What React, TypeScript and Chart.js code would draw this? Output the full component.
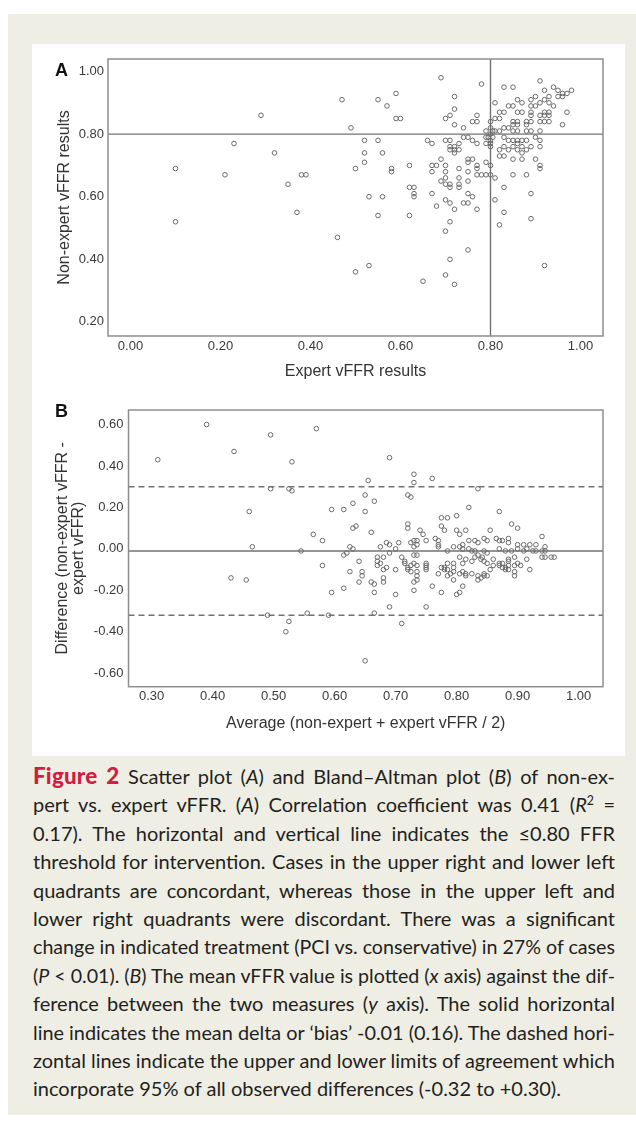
import React, { useEffect, useLayoutEffect, useRef } from 'react';
import { Chart, registerables } from 'chart.js';

Chart.register(...registerables);

// ---------- Panel A: scatter of expert vs non-expert vFFR ----------
const expertVFFR = [
  0.69, 0.78, 0.83, 0.85, 0.91, 0.94, 0.95, 0.96, 0.97, 0.98,
  0.92, 0.93, 0.95, 0.96, 0.72, 0.72, 0.71, 0.70, 0.72, 0.74,
  0.77, 0.76, 0.77, 0.60, 0.81, 0.82, 0.83, 0.84, 0.85, 0.86,
  0.87, 0.86, 0.87, 0.89, 0.90, 0.89, 0.90, 0.89, 0.91, 0.92,
  0.93, 0.94, 0.92, 0.93, 0.80, 0.81, 0.82, 0.80, 0.81, 0.85,
  0.86, 0.85, 0.86, 0.85, 0.86, 0.84, 0.88, 0.88, 0.89, 0.89,
  0.91, 0.91, 0.92, 0.92, 0.93, 0.93, 0.96, 0.97, 0.79, 0.80,
  0.805, 0.82, 0.83, 0.89, 0.91, 0.795, 0.80, 0.805, 0.83, 0.88,
  0.84, 0.85, 0.86, 0.87, 0.88, 0.90, 0.91, 0.80, 0.80, 0.82,
  0.83, 0.84, 0.85, 0.86, 0.87, 0.86, 0.87, 0.88, 0.89, 0.91,
  0.82, 0.83, 0.85, 0.87, 0.90, 0.91, 0.91, 0.81, 0.80, 0.85,
  0.88, 0.83, 0.89, 0.81, 0.83, 0.89, 0.82,
  0.66, 0.67, 0.70, 0.71, 0.74, 0.75, 0.76, 0.77, 0.79, 0.79,
  0.71, 0.72, 0.71, 0.72, 0.73, 0.73, 0.72, 0.69, 0.67, 0.68,
  0.70, 0.75, 0.76, 0.75, 0.73, 0.77, 0.77, 0.77, 0.78, 0.79,
  0.80, 0.62, 0.67, 0.70, 0.75, 0.73, 0.70, 0.69, 0.70, 0.71,
  0.71, 0.73, 0.73, 0.75, 0.79, 0.62, 0.63, 0.63, 0.63, 0.67,
  0.70, 0.71, 0.68, 0.72, 0.74, 0.75, 0.75, 0.76, 0.77, 0.62,
  0.71, 0.70, 0.75,
  0.71, 0.50, 0.53, 0.65, 0.70, 0.72, 0.92,
  0.47, 0.55, 0.59, 0.57, 0.49, 0.59, 0.52, 0.55, 0.52, 0.56,
  0.52, 0.50, 0.58, 0.58, 0.53, 0.56, 0.55, 0.46,
  0.10, 0.10, 0.21, 0.23, 0.29, 0.32, 0.35, 0.38, 0.39, 0.37,
];

const nonExpertVFFR = [
  0.98, 0.96, 0.95, 0.95, 0.97, 0.95, 0.94, 0.93, 0.93, 0.94,
  0.94, 0.92, 0.92, 0.92, 0.92, 0.88, 0.86, 0.85, 0.83, 0.82,
  0.86, 0.84, 0.84, 0.85, 0.90, 0.87, 0.87, 0.89, 0.89, 0.91,
  0.90, 0.87, 0.87, 0.91, 0.92, 0.89, 0.89, 0.87, 0.90, 0.91,
  0.90, 0.89, 0.87, 0.87, 0.84, 0.85, 0.85, 0.82, 0.81, 0.84,
  0.84, 0.83, 0.83, 0.81, 0.81, 0.82, 0.84, 0.83, 0.86, 0.84,
  0.84, 0.86, 0.86, 0.84, 0.86, 0.84, 0.83, 0.87, 0.81, 0.80,
  0.81, 0.81, 0.82, 0.81, 0.81, 0.79, 0.78, 0.79, 0.79, 0.81,
  0.78, 0.78, 0.78, 0.78, 0.78, 0.79, 0.78, 0.77, 0.76, 0.75,
  0.76, 0.75, 0.76, 0.77, 0.76, 0.75, 0.74, 0.75, 0.76, 0.76,
  0.73, 0.73, 0.72, 0.72, 0.72, 0.70, 0.69, 0.66, 0.67, 0.67,
  0.67, 0.63, 0.61, 0.59, 0.55, 0.53, 0.51,
  0.78, 0.77, 0.78, 0.78, 0.79, 0.79, 0.78, 0.77, 0.79, 0.77,
  0.76, 0.76, 0.75, 0.75, 0.75, 0.77, 0.74, 0.72, 0.70, 0.70,
  0.70, 0.72, 0.72, 0.71, 0.69, 0.70, 0.69, 0.67, 0.67, 0.71,
  0.70, 0.70, 0.68, 0.68, 0.68, 0.66, 0.66, 0.65, 0.64, 0.64,
  0.63, 0.64, 0.63, 0.65, 0.67, 0.63, 0.63, 0.61, 0.60, 0.61,
  0.59, 0.58, 0.57, 0.56, 0.58, 0.58, 0.61, 0.60, 0.56, 0.54,
  0.52, 0.49, 0.43,
  0.40, 0.36, 0.38, 0.33, 0.35, 0.32, 0.38,
  0.91, 0.91, 0.93, 0.89, 0.82, 0.85, 0.78, 0.78, 0.74, 0.74,
  0.71, 0.69, 0.69, 0.68, 0.60, 0.60, 0.54, 0.47,
  0.69, 0.52, 0.67, 0.77, 0.86, 0.74, 0.64, 0.67, 0.67, 0.55,
];

// ---------- Panel B: Bland-Altman ----------
const baAverage = [
  0.31, 0.39, 0.435, 0.46, 0.465, 0.495, 0.495, 0.525, 0.53, 0.53,
  0.545, 0.57, 0.565, 0.58, 0.58, 0.595, 0.43, 0.455, 0.49, 0.52,
  0.525, 0.555, 0.59, 0.595, 0.615, 0.625, 0.64, 0.645, 0.645, 0.65,
  0.66, 0.665, 0.665, 0.665, 0.68, 0.68, 0.69, 0.70, 0.70, 0.71,
  0.72, 0.725, 0.73, 0.735, 0.735, 0.73, 0.75, 0.75, 0.75, 0.76,
  0.77, 0.775, 0.775, 0.78, 0.785, 0.795, 0.80, 0.805, 0.81, 0.805,
  0.815, 0.835, 0.845,
  0.69, 0.655, 0.65, 0.665, 0.63, 0.615, 0.65, 0.72, 0.725, 0.63,
  0.635, 0.66, 0.72, 0.72, 0.625, 0.63, 0.615, 0.62, 0.685, 0.69,
  0.675, 0.70, 0.705, 0.69, 0.67, 0.68, 0.67, 0.67, 0.675, 0.685,
  0.68, 0.71, 0.715, 0.72, 0.64,
  0.73, 0.73, 0.76, 0.835, 0.82, 0.87, 0.775, 0.785, 0.80, 0.775,
  0.78, 0.80, 0.805, 0.815, 0.855, 0.89, 0.90, 0.74, 0.745, 0.94,
  0.73, 0.735, 0.725, 0.75, 0.765, 0.77, 0.77, 0.77, 0.82, 0.83,
  0.835, 0.845, 0.85, 0.865, 0.87, 0.875, 0.885, 0.885, 0.90, 0.91,
  0.92, 0.93, 0.945,
  0.73, 0.735, 0.73, 0.735, 0.785, 0.795, 0.805, 0.81, 0.81, 0.82,
  0.825, 0.83, 0.845, 0.85, 0.87, 0.88, 0.89, 0.90, 0.91, 0.915,
  0.925, 0.93, 0.94, 0.945, 0.94, 0.945, 0.955, 0.96,
  0.715, 0.73, 0.735, 0.725, 0.75, 0.75, 0.78, 0.785, 0.795, 0.795,
  0.805, 0.81, 0.815, 0.825, 0.83, 0.835, 0.84, 0.842, 0.845, 0.85,
  0.86, 0.87, 0.875, 0.885, 0.885, 0.895, 0.88, 0.885, 0.895, 0.90,
  0.915, 0.92, 0.895,
  0.785, 0.79, 0.795, 0.81, 0.815, 0.825, 0.835, 0.84, 0.845, 0.85,
  0.855, 0.86, 0.87, 0.875, 0.88, 0.885, 0.895, 0.905, 0.735,
];

const baDifference = [
  0.43, 0.60, 0.47, 0.18, 0.01, 0.55, 0.29, 0.29, 0.28, 0.42,
  -0.01, 0.58, 0.07, 0.04, -0.08, 0.19, -0.14, -0.15, -0.32, -0.40,
  -0.35, -0.31, -0.32, -0.21, -0.19, -0.11, -0.16, -0.11, -0.13, -0.54,
  -0.16, -0.17, -0.21, -0.31, -0.14, -0.16, -0.28, -0.10, -0.22, -0.36,
  -0.10, -0.11, -0.20, -0.13, -0.15, -0.16, -0.08, -0.10, -0.28, -0.18,
  -0.12, -0.21, -0.09, -0.10, -0.13, -0.15, -0.22, -0.21, -0.18, -0.12,
  -0.12, -0.15, -0.13,
  0.44, 0.33, 0.26, 0.23, 0.22, 0.19, 0.18, 0.26, 0.25, 0.10,
  0.11, 0.08, 0.12, 0.10, 0.01, 0.00, -0.03, -0.02, 0.03, 0.02,
  0.01, 0.00, 0.03, -0.02, -0.04, -0.04, -0.06, -0.08, -0.07, -0.09,
  -0.10, -0.04, -0.07, -0.09, -0.06,
  0.36, 0.32, 0.34, 0.29, 0.20, 0.18, 0.15, 0.15, 0.16, 0.11,
  0.09, 0.09, 0.07, 0.09, 0.09, 0.12, 0.10, 0.09, 0.07, 0.06,
  0.04, 0.04, 0.03, 0.04, 0.05, 0.04, 0.02, 0.01, 0.04, 0.04,
  0.03, 0.05, 0.04, 0.05, 0.04, 0.04, 0.05, 0.03, 0.02, 0.02,
  0.02, 0.02, 0.01,
  0.01, 0.02, -0.03, -0.03, -0.01, 0.01, 0.01, 0.02, 0.00, 0.00,
  -0.01, -0.01, -0.01, -0.02, 0.00, -0.01, -0.01, 0.00, -0.01, 0.00,
  -0.01, -0.01, -0.01, -0.01, -0.04, -0.04, -0.04, -0.04,
  -0.06, -0.07, -0.08, -0.08, -0.07, -0.09, -0.09, -0.07, -0.07, -0.09,
  -0.04, -0.07, -0.05, -0.06, -0.04, -0.03, -0.05, -0.04, -0.06, -0.07,
  -0.05, -0.07, -0.07, -0.06, -0.05, -0.04, -0.09, -0.10, -0.08, -0.07,
  -0.05, -0.10, -0.13,
  -0.10, -0.12, -0.11, -0.11, -0.13, -0.12, -0.13, -0.14, -0.12, -0.13,
  -0.10, -0.08, -0.08, -0.09, -0.10, -0.08, -0.11, -0.08, -0.11,
];

// ---------- axes, ticks, reference values ----------
const scatterXRange = [-0.05, 1.05];
const scatterYRange = [0.155, 1.04];
const scatterXTicks = [0.0, 0.2, 0.4, 0.6, 0.8, 1.0];
const scatterYTicks = [0.2, 0.4, 0.6, 0.8, 1.0];
const baXRange = [0.262, 1.04];
const baYRange = [-0.665, 0.67];
const baXTicks = [0.3, 0.4, 0.5, 0.6, 0.7, 0.8, 0.9, 1.0];
const baYTicks = [-0.6, -0.4, -0.2, 0.0, 0.2, 0.4, 0.6];
const ffrThreshold = 0.8;
const baBias = -0.01;
const baLimits = [-0.32, 0.3];

const FONT = "'Liberation Sans', Arial, Helvetica, sans-serif";
const POINT_COLOR = '#6a6a6a';
const LINE_COLOR = '#727272';
const FRAME_COLOR = '#8e8e8e';
const CAPTION_WIDTH = 582;

const frameBox = {
  id: 'frameBox',
  afterDatasetsDraw(chart: any) {
    const { ctx, chartArea } = chart;
    ctx.save();
    ctx.strokeStyle = FRAME_COLOR;
    ctx.lineWidth = 1.5;
    ctx.strokeRect(chartArea.left, chartArea.top, chartArea.right - chartArea.left, chartArea.bottom - chartArea.top);
    ctx.restore();
  },
};

function pointsOf(xs: number[], ys: number[]) {
  return xs.map((x, i) => ({ x, y: ys[i] }));
}

function refLine(data: { x: number; y: number }[], dash: number[] = []) {
  return {
    data,
    showLine: true,
    borderColor: LINE_COLOR,
    borderWidth: 1.4,
    borderDash: dash,
    pointRadius: 0,
    pointHoverRadius: 0,
    fill: false,
  };
}

function axis(opts: {
  range: number[];
  ticks: number[];
  title: string | string[];
  size: number;
  tickPad: number;
  titlePad: any;
  titleLineHeight?: number;
}) {
  return {
    type: 'linear',
    min: opts.range[0],
    max: opts.range[1],
    grid: { display: false, drawTicks: false },
    border: { display: false },
    afterBuildTicks: (scale: any) => {
      scale.ticks = opts.ticks.map((v) => ({ value: v }));
    },
    afterFit: (scale: any) => {
      if (scale.isHorizontal()) scale.height = opts.size;
      else scale.width = opts.size;
    },
    ticks: {
      padding: opts.tickPad,
      color: '#3a3a3a',
      font: { family: FONT, size: 13 },
      callback: (v: any) => Number(v).toFixed(2),
      autoSkip: false,
      maxRotation: 0,
      minRotation: 0,
    },
    title: {
      display: true,
      text: opts.title,
      color: '#333333',
      font: { family: FONT, size: 16, lineHeight: opts.titleLineHeight ?? 1.2 },
      padding: opts.titlePad,
    },
  };
}

function baseOptions(padding: any, x: any, y: any) {
  return {
    responsive: false,
    maintainAspectRatio: false,
    animation: false,
    devicePixelRatio: 1,
    layout: { padding },
    plugins: { legend: { display: false }, tooltip: { enabled: false } },
    events: [],
    scales: { x, y },
  };
}

export default function App() {
  const aRef = useRef<HTMLCanvasElement>(null);
  const bRef = useRef<HTMLCanvasElement>(null);
  const lineRefs = useRef<(HTMLSpanElement | null)[]>([]);

  useEffect(() => {
    const scatterPts = {
      data: pointsOf(expertVFFR, nonExpertVFFR),
      pointStyle: 'circle',
      pointRadius: 2.3,
      pointBorderWidth: 1,
      borderColor: POINT_COLOR,
      backgroundColor: 'rgba(0,0,0,0)',
      pointBackgroundColor: 'rgba(0,0,0,0)',
      pointBorderColor: POINT_COLOR,
    };
    const chartA = new Chart(aRef.current as HTMLCanvasElement, {
      type: 'scatter',
      data: {
        datasets: [
          scatterPts,
          refLine([
            { x: scatterXRange[0], y: ffrThreshold },
            { x: scatterXRange[1], y: ffrThreshold },
          ]),
          refLine([
            { x: ffrThreshold, y: scatterYRange[0] },
            { x: ffrThreshold, y: scatterYRange[1] },
          ]),
        ] as any,
      },
      options: baseOptions(
        { left: 0, right: 22, top: 15, bottom: 0 },
        axis({ range: scatterXRange, ticks: scatterXTicks, title: 'Expert vFFR results', size: 58, tickPad: 3, titlePad: { top: 0, bottom: 12.4 } }),
        axis({ range: scatterYRange, ticks: scatterYTicks, title: 'Non-expert vFFR results', size: 76, tickPad: 4, titlePad: { top: 23.4, bottom: 0 } })
      ) as any,
      plugins: [frameBox],
    });

    const baPts = {
      data: pointsOf(baAverage, baDifference),
      pointStyle: 'circle',
      pointRadius: 2.3,
      pointBorderWidth: 1,
      borderColor: POINT_COLOR,
      backgroundColor: 'rgba(0,0,0,0)',
      pointBackgroundColor: 'rgba(0,0,0,0)',
      pointBorderColor: POINT_COLOR,
    };
    const chartB = new Chart(bRef.current as HTMLCanvasElement, {
      type: 'scatter',
      data: {
        datasets: [
          baPts,
          refLine([
            { x: baXRange[0], y: baBias },
            { x: baXRange[1], y: baBias },
          ]),
          refLine(
            [
              { x: baXRange[0], y: baLimits[1] },
              { x: baXRange[1], y: baLimits[1] },
            ],
            [6, 4]
          ),
          refLine(
            [
              { x: baXRange[0], y: baLimits[0] },
              { x: baXRange[1], y: baLimits[0] },
            ],
            [6, 4]
          ),
        ] as any,
      },
      options: baseOptions(
        { left: 0, right: 22, top: 16, bottom: 0 },
        axis({ range: baXRange, ticks: baXTicks, title: 'Average (non-expert + expert vFFR / 2)', size: 69.3, tickPad: 2, titlePad: { top: 0, bottom: 22.4 } }),
        axis({
          range: baYRange,
          ticks: baYTicks,
          title: ['Difference (non-expert vFFR -', 'expert vFFR)'],
          size: 96.5,
          tickPad: 5,
          titlePad: { top: 23, bottom: 0 },
          titleLineHeight: 1,
        })
      ) as any,
      plugins: [frameBox],
    });

    return () => {
      chartA.destroy();
      chartB.destroy();
    };
  }, []);

  // Fit each caption line to the justified measure: justify short lines, squeeze long ones.
  useLayoutEffect(() => {
    const fit = () => {
      const els = lineRefs.current;
      els.forEach((el, i) => {
        if (!el) return;
        el.style.transform = '';
        el.style.width = 'auto';
        el.style.textAlignLast = 'auto';
        const w = el.getBoundingClientRect().width;
        if (w > CAPTION_WIDTH) {
          el.style.transform = `scaleX(${CAPTION_WIDTH / w})`;
        } else if (i < els.length - 1) {
          el.style.width = CAPTION_WIDTH + 'px';
          el.style.textAlign = 'justify';
          el.style.textAlignLast = 'justify';
        }
      });
    };
    fit();
    const fonts = (document as any).fonts;
    if (fonts && fonts.ready) fonts.ready.then(fit);
  }, []);

  const captionFont = "Lato, 'Noto Sans', sans-serif";
  const sup: React.CSSProperties = { fontSize: '0.62em', lineHeight: 0, verticalAlign: '0.55em' };

  const captionLines: React.ReactNode[] = [
    <>
      <b style={{ color: '#cf1d43', fontWeight: 900, fontSize: '1.12em', letterSpacing: '0.2px' }}>Figure 2</b> Scatter plot (<i>A</i>) and Bland–Altman plot (<i>B</i>) of non-ex-
    </>,
    <>
      pert vs. expert vFFR. (<i>A</i>) Correlation coefficient was 0.41 (<i>R</i>
      <span style={sup}>2</span> =
    </>,
    <>0.17). The horizontal and vertical line indicates the ≤0.80 FFR</>,
    <>threshold for intervention. Cases in the upper right and lower left</>,
    <>quadrants are concordant, whereas those in the upper left and</>,
    <>lower right quadrants were discordant. There was a significant</>,
    <>change in indicated treatment (PCI vs. conservative) in 27% of cases</>,
    <>
      (<i>P</i> &lt; 0.01). (<i>B</i>) The mean vFFR value is plotted (<i>x</i> axis) against the dif-
    </>,
    <>
      ference between the two measures (<i>y</i> axis). The solid horizontal
    </>,
    <>line indicates the mean delta or ‘bias’ -0.01 (0.16). The dashed hori-</>,
    <>zontal lines indicate the upper and lower limits of agreement which</>,
    <>incorporate 95% of all observed differences (-0.32 to +0.30).</>,
  ];

  return (
    <div style={{ position: 'absolute', left: 8, top: 14, width: 628, height: 1101, background: '#efeee4' }}>
      <div style={{ position: 'absolute', left: 24, top: 30, width: 593, height: 712, background: '#ffffff' }}>
        <canvas
          ref={aRef}
          width={593}
          height={350}
          style={{ position: 'absolute', left: 0, top: 0, width: 593, height: 350 }}
        />
        <canvas
          ref={bRef}
          width={593}
          height={362}
          style={{ position: 'absolute', left: 0, top: 350, width: 593, height: 362 }}
        />
        <div
          style={{ position: 'absolute', left: 23, top: 16, fontFamily: FONT, fontWeight: 700, fontSize: 18, lineHeight: '20px', color: '#111' }}
        >
          A
        </div>
        <div
          style={{ position: 'absolute', left: 23, top: 357, fontFamily: FONT, fontWeight: 700, fontSize: 18, lineHeight: '20px', color: '#111' }}
        >
          B
        </div>
      </div>
      <div
        style={{
          position: 'absolute',
          left: 25,
          top: 748,
          width: CAPTION_WIDTH,
          fontFamily: captionFont,
          fontSize: 20,
          color: '#231f20',
        }}
      >
        {captionLines.map((ln, i) => (
          <div key={i} style={{ height: 28.4, lineHeight: '28.4px', whiteSpace: 'nowrap', overflow: 'visible' }}>
            <span
              ref={(el) => {
                lineRefs.current[i] = el;
              }}
              style={{ display: 'inline-block', whiteSpace: 'nowrap', transformOrigin: '0 0' }}
            >
              {ln}
            </span>
          </div>
        ))}
      </div>
    </div>
  );
}
